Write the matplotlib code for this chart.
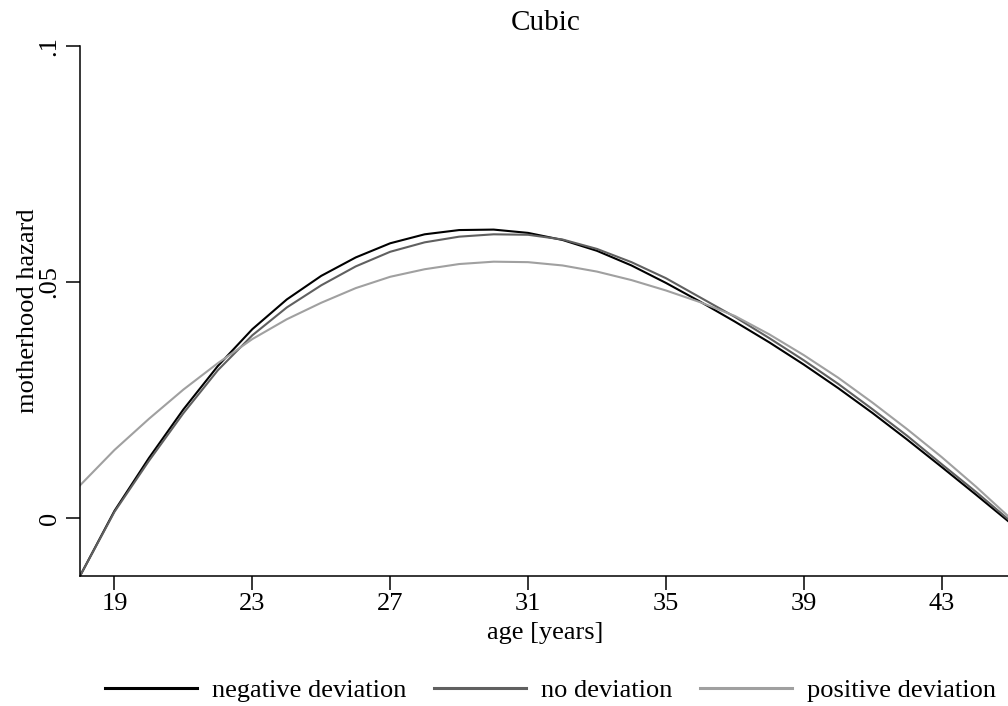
import matplotlib
matplotlib.use('Agg')
import matplotlib.pyplot as plt

# Data
ages = list(range(18, 46))
negative_dev = [-0.0123, 0.0015, 0.0127, 0.0230, 0.0322, 0.0400, 0.0463, 0.0513,
                0.0552, 0.0582, 0.0601, 0.0610, 0.0611, 0.0604, 0.0589, 0.0566,
                0.0535, 0.0498, 0.0458, 0.0416, 0.0372, 0.0325, 0.0275, 0.0222,
                0.0166, 0.0108, 0.0049, -0.0011]
no_dev = [-0.0123, 0.0013, 0.0121, 0.0222, 0.0313, 0.0387, 0.0446, 0.0493,
          0.0533, 0.0564, 0.0584, 0.0596, 0.0601, 0.0600, 0.0590, 0.0570,
          0.0542, 0.0508, 0.0467, 0.0426, 0.0381, 0.0334, 0.0284, 0.0230,
          0.0174, 0.0114, 0.0055, -0.0007]
positive_dev = [0.0069, 0.0144, 0.0210, 0.0272, 0.0328, 0.0379, 0.0421, 0.0456,
                0.0487, 0.0511, 0.0527, 0.0538, 0.0543, 0.0542, 0.0535, 0.0522,
                0.0504, 0.0482, 0.0457, 0.0428, 0.0389, 0.0345, 0.0297, 0.0244,
                0.0188, 0.0129, 0.0066, -0.0001]

x_ticks = [19, 23, 27, 31, 35, 39, 43]
y_ticks = [0, 0.05, 0.1]
y_tick_labels = ['0', '.05', '.1']
series_labels = ['negative deviation', 'no deviation', 'positive deviation']
colors = ['#000000', '#606060', '#a0a0a0']

plt.rcParams['font.family'] = ['Liberation Serif', 'DejaVu Serif']
plt.rcParams['font.size'] = 19

fig = plt.figure(figsize=(10.08, 7.06), dpi=100)
ax = fig.add_axes([80 / 1008, 1 - 576 / 706, 930.6 / 1008, 530 / 706])

for vals, lab, col in zip([negative_dev, no_dev, positive_dev], series_labels, colors):
    ax.plot(ages, vals, color=col, lw=1.5, label=lab, solid_joinstyle='miter')

ax.set_xlim(18, 45)
ax.set_ylim(min(negative_dev), 0.1)

ax.set_xticks(x_ticks)
ax.set_yticks(y_ticks)
ax.set_yticklabels(y_tick_labels, rotation=90, va='center')
ax.tick_params(axis='both', direction='out', length=10, width=1.1, labelsize=19)
ax.tick_params(axis='x', pad=2)
ax.tick_params(axis='y', pad=4)

for side in ['top', 'right']:
    ax.spines[side].set_visible(False)
for side in ['left', 'bottom']:
    ax.spines[side].set_linewidth(1.1)

ax.set_xlabel('age [years]', fontsize=19, va='center')
ax.xaxis.set_label_coords(0.5, -(633 - 576) / 530)
ax.set_ylabel('motherhood hazard', fontsize=19, va='center')
ax.yaxis.set_label_coords(-(80 - 28) / 930.6, (576 - 311) / 530)

# title centred over the plot area, pad removed so y is exact
ax.set_title('Cubic', fontsize=21, y=1 + (46 - 23) / 530, va='center', pad=0)

handles, labels = ax.get_legend_handles_labels()
leg = fig.legend(handles, labels, loc='center', ncol=3,
                 bbox_to_anchor=(550.5 / 1008, 1 - 690 / 706),
                 frameon=False, fontsize=19, handlelength=3.5,
                 handletextpad=0.55, columnspacing=1.05)
for line in leg.get_lines():
    line.set_linewidth(2.2)

fig.savefig('out.png', dpi=100)
